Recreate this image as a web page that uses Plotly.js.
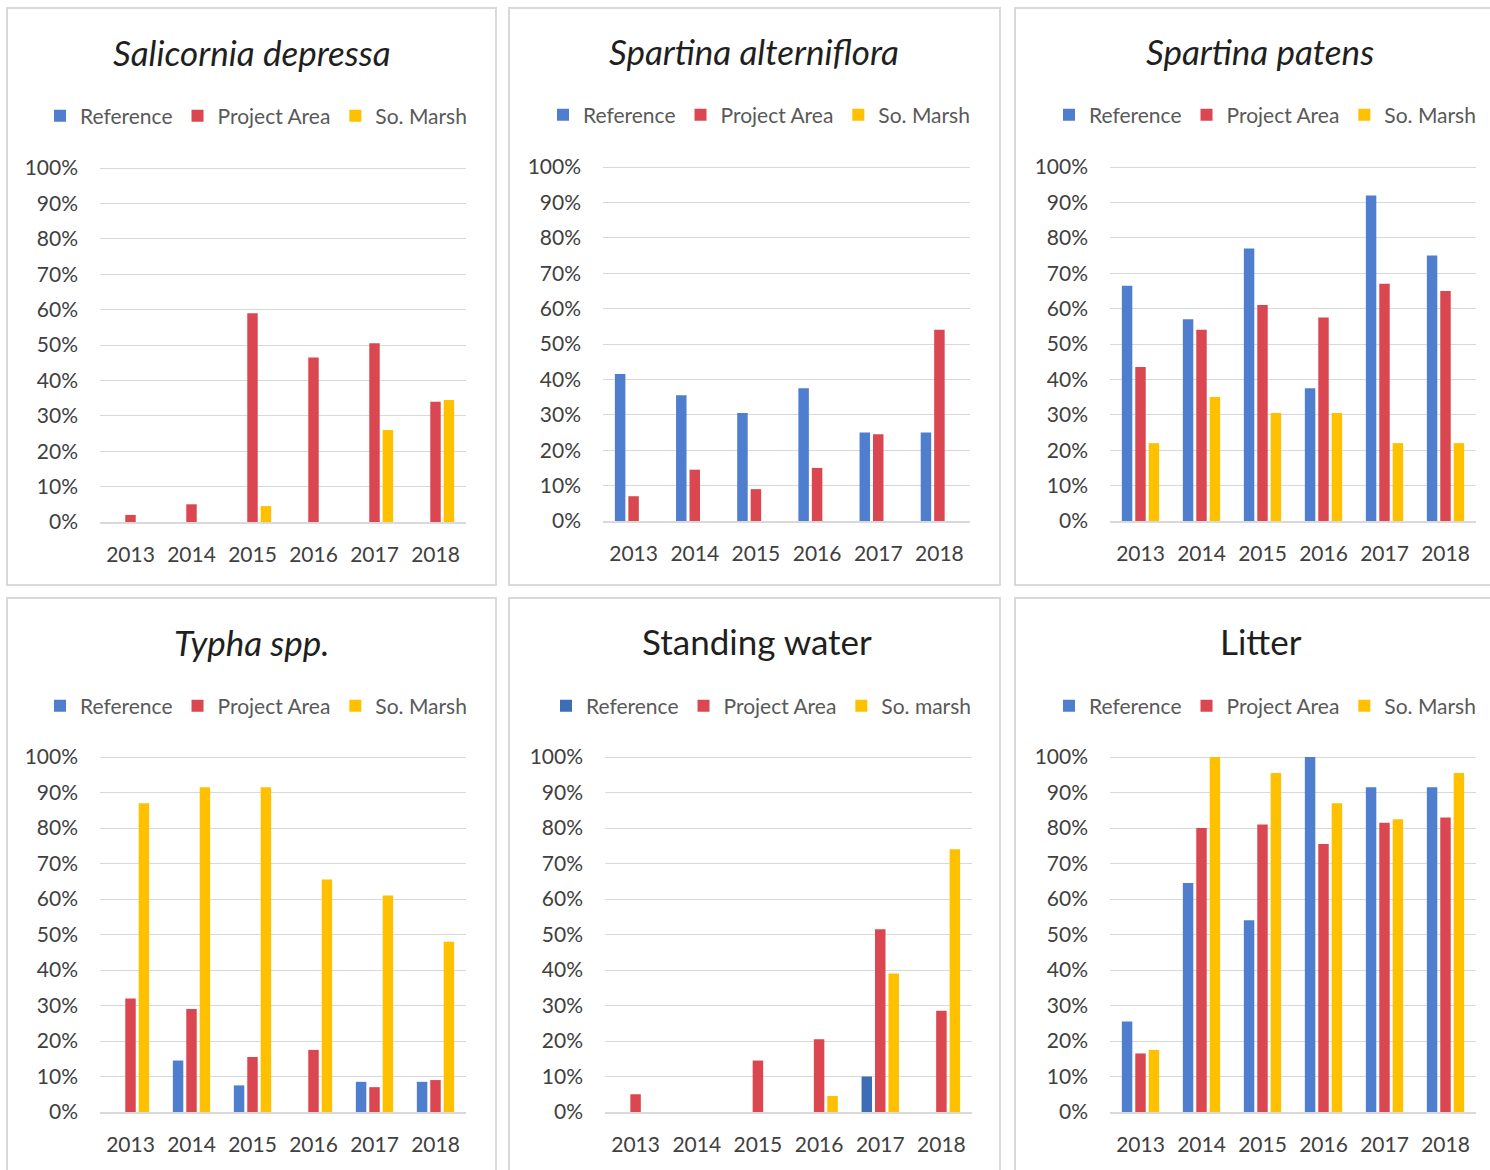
<!DOCTYPE html>
<html>
<head>
<meta charset="utf-8">
<script src="https://cdn.plot.ly/plotly-3.0.1.min.js"></script>
<style>html,body{margin:0;padding:0;background:#fff;}#chart{width:1490px;height:1170px;}</style>
</head>
<body>
<div id="chart"></div>
<script>
// ---- data (percent cover) ----
const years = ['2013', '2014', '2015', '2016', '2017', '2018'];
const seriesNames = ['Reference', 'Project Area', 'So. Marsh'];

const salicorniaRef   = [0, 0, 0, 0, 0, 0];
const salicorniaProj  = [2, 5, 59, 46.5, 50.5, 34];
const salicorniaMarsh = [0, 0, 4.5, 0, 26, 34.5];

const alternifloraRef   = [41.5, 35.5, 30.5, 37.5, 25, 25];
const alternifloraProj  = [7, 14.5, 9, 15, 24.5, 54];
const alternifloraMarsh = [0, 0, 0, 0, 0, 0];

const patensRef   = [66.5, 57, 77, 37.5, 92, 75];
const patensProj  = [43.5, 54, 61, 57.5, 67, 65];
const patensMarsh = [22, 35, 30.5, 30.5, 22, 22];

const typhaRef   = [0, 14.5, 7.5, 0, 8.5, 8.5];
const typhaProj  = [32, 29, 15.5, 17.5, 7, 9];
const typhaMarsh = [87, 91.5, 91.5, 65.5, 61, 48];

const waterRef   = [0, 0, 0, 0, 10, 0];
const waterProj  = [5, 0, 14.5, 20.5, 51.5, 28.5];
const waterMarsh = [0, 0, 0, 4.5, 39, 74];

const litterRef   = [25.5, 64.5, 54, 100, 91.5, 91.5];
const litterProj  = [16.5, 80, 81, 75.5, 81.5, 83];
const litterMarsh = [17.5, 100, 95.5, 87, 82.5, 95.5];

const yTicks = [0, 10, 20, 30, 40, 50, 60, 70, 80, 90, 100];

// ---- styling / layout ----
const W = 1490, H = 1170;
const px = v => v / W;
const py = v => 1 - v / H;
const FONT = 'Lato, "Open Sans", sans-serif';
const BLUE = '#4F7ECF', RED = '#DA4750', YELLOW = '#FFC000';

const panels = [
  {title: 'Salicornia depressa', italic: true, data: [salicorniaRef, salicorniaProj, salicorniaMarsh], names: seriesNames,
   x: [100, 466], y: [522, 167], titlePos: [252, 52], legPos: [256, 116], box: [7, 8, 496, 585], refColor: BLUE},
  {title: 'Spartina alterniflora', italic: true, data: [alternifloraRef, alternifloraProj, alternifloraMarsh], names: seriesNames,
   x: [603, 970], y: [521, 166], titlePos: [754, 51], legPos: [759, 115], box: [509, 8, 1000, 585], refColor: BLUE},
  {title: 'Spartina patens', italic: true, data: [patensRef, patensProj, patensMarsh], names: seriesNames,
   x: [1110, 1476], y: [521, 166], titlePos: [1260, 51], legPos: [1265, 115], box: [1015, 8, 1500, 585], refColor: BLUE},
  {title: 'Typha spp.', italic: true, data: [typhaRef, typhaProj, typhaMarsh], names: seriesNames,
   x: [100, 466], y: [1112, 756], titlePos: [251, 642], legPos: [256, 706], box: [7, 598, 496, 1180], refColor: BLUE},
  {title: 'Standing water', italic: false, data: [waterRef, waterProj, waterMarsh], names: ['Reference', 'Project Area', 'So. marsh'],
   x: [605, 972], y: [1112, 756], titlePos: [757, 641], legPos: [761, 706], box: [509, 598, 1000, 1180], refColor: '#3E6DB8'},
  {title: 'Litter', italic: false, data: [litterRef, litterProj, litterMarsh], names: seriesNames,
   x: [1110, 1476], y: [1112, 756], titlePos: [1261, 641], legPos: [1265, 706], box: [1015, 598, 1500, 1180], refColor: BLUE}
];

const traces = [];
const layout = {
  width: W, height: H,
  margin: {l: 0, r: 0, t: 0, b: 0},
  paper_bgcolor: '#ffffff', plot_bgcolor: '#ffffff',
  font: {family: FONT, color: '#404040'},
  barmode: 'group', bargap: 0.34, bargroupgap: 0.22,
  showlegend: true,
  annotations: [], shapes: []
};

panels.forEach((p, i) => {
  const n = i === 0 ? '' : String(i + 1);
  const colors = [p.refColor, RED, YELLOW];
  p.data.forEach((vals, k) => {
    traces.push({
      type: 'bar', x: years, y: vals, name: p.names[k],
      marker: {color: colors[k]},
      xaxis: 'x' + n, yaxis: 'y' + n, legend: 'legend' + n,
      hoverinfo: 'x+y+name'
    });
  });
  layout['xaxis' + n] = {
    domain: [px(p.x[0]), px(p.x[1])], anchor: 'y' + n,
    type: 'category', categoryorder: 'array', categoryarray: years,
    showline: true, linecolor: '#D9D9D9', linewidth: 1.5,
    showgrid: false, zeroline: false, ticks: '',
    tickfont: {family: FONT, size: 21, color: '#404040'},
    ticklabelstandoff: 13, fixedrange: true
  };
  layout['yaxis' + n] = {
    domain: [py(p.y[0]), py(p.y[1])], anchor: 'x' + n,
    range: [0, 100.3], tickmode: 'array', tickvals: yTicks,
    ticktext: yTicks.map(v => v + '%'),
    showgrid: true, gridcolor: '#D9D9D9', gridwidth: 1.2,
    zeroline: false, showline: false, ticks: '',
    tickfont: {family: FONT, size: 21, color: '#404040'},
    ticklabelstandoff: 21, fixedrange: true
  };
  layout['legend' + n] = {
    orientation: 'h', x: px(p.legPos[0]), y: py(p.legPos[1]),
    xanchor: 'center', yanchor: 'middle',
    font: {family: FONT, size: 21, color: '#595959'},
    itemwidth: 30, bgcolor: 'rgba(0,0,0,0)', traceorder: 'normal',
    itemclick: false, itemdoubleclick: false
  };
  layout.annotations.push({
    xref: 'paper', yref: 'paper', x: px(p.titlePos[0]), y: py(p.titlePos[1]),
    xanchor: 'center', yanchor: 'middle', showarrow: false,
    text: p.italic ? '<i>' + p.title + '</i>' : p.title,
    font: {family: FONT, size: 35, color: '#1F1F1F'}
  });
  layout.shapes.push({
    type: 'rect', xref: 'paper', yref: 'paper', layer: 'below',
    x0: px(p.box[0]), x1: px(p.box[2]), y0: py(p.box[3]), y1: py(p.box[1]),
    line: {color: '#D9D9D9', width: 2}, fillcolor: 'rgba(0,0,0,0)'
  });
});

Plotly.newPlot('chart', traces, layout, {displayModeBar: false, staticPlot: false});
</script>
</body>
</html>
